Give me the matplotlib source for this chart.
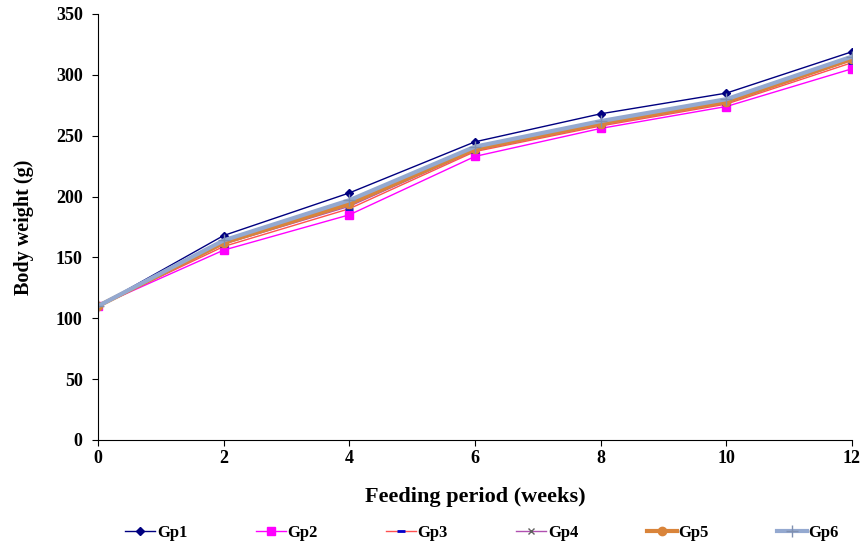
import matplotlib.pyplot as plt

weeks = [0, 2, 4, 6, 8, 10, 12]
gp1 = [110, 168, 203, 245, 268, 285, 319]
gp2 = [110, 156, 185, 233, 256, 274, 305]
gp3 = [110, 159, 190, 237, 258, 276, 310]
gp4 = [110, 161, 192, 238, 259, 277, 312]
gp5 = [110, 162, 194, 239, 260, 278, 313]
gp6 = [110, 164, 197, 241, 262, 280, 315]
labels = ['Gp1', 'Gp2', 'Gp3', 'Gp4', 'Gp5', 'Gp6']

plt.rcParams['font.family'] = ['Liberation Serif', 'DejaVu Serif']
plt.rcParams['font.weight'] = 'bold'

fig = plt.figure(figsize=(8.61, 5.44), dpi=100)
ax = fig.add_axes([98 / 861, 1 - 440 / 544, (852 - 98) / 861, (440 - 14) / 544])

ax.plot(weeks, gp1, color='#000080', lw=1, marker='D', ms=4, label=labels[0])
ax.plot(weeks, gp2, color='#ff00ff', lw=1, marker='s', ms=6, label=labels[1])
ax.plot(weeks, gp3, color='#ff5050', lw=1, marker='_', ms=6, mec='#0000cc', mew=2, label=labels[2])
ax.plot(weeks, gp4, color='#b050b0', lw=1, marker='x', ms=5, mec='#606060', label=labels[3])
ax.plot(weeks, gp5, color='#d9843a', lw=3, marker='o', ms=6, label=labels[4])
ax.plot(weeks, gp6, color='#94a9d0', lw=3, marker='+', ms=9, mec='#8090b0', label=labels[5])

ax.set_xlim(0, 12)
ax.set_ylim(0, 350)
ax.set_xticks(weeks)
ax.set_yticks(range(0, 351, 50))
ax.spines['top'].set_visible(False)
ax.spines['right'].set_visible(False)
ax.tick_params(direction='out', length=4, labelsize=13)
ax.tick_params(axis='y', pad=7)
for t in ax.get_xticklabels() + ax.get_yticklabels():
    t.set_fontweight('bold')

ax.set_xlabel('Feeding period (weeks)', fontsize=16, fontweight='bold', labelpad=14)
ax.set_ylabel('Body weight (g)', fontsize=14.5, fontweight='bold', labelpad=16)

fig.legend(*ax.get_legend_handles_labels(), loc='center', bbox_to_anchor=(0.56, 1 - 533 / 544),
           ncol=6, frameon=False, fontsize=12, handlelength=1.8, columnspacing=4.1,
           handletextpad=0.1, borderaxespad=0)

fig.savefig('out.png', dpi=100)
